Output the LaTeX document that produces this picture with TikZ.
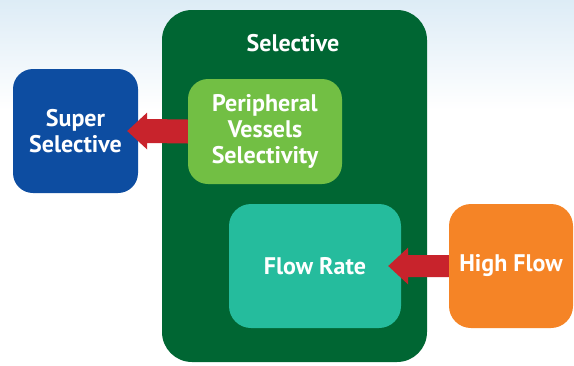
\documentclass[tikz,border=0pt]{standalone}
\usepackage{fontspec}
\setmainfont{PT Sans}
\usetikzlibrary{calc}
\definecolor{dkgreen}{HTML}{006633}
\definecolor{ssblue}{HTML}{0D4DA1}
\definecolor{ltgreen}{HTML}{72BF44}
\definecolor{teal2}{HTML}{25BC9D}
\definecolor{orng}{HTML}{F58426}
\definecolor{arrred}{HTML}{C8232C}
\definecolor{sky}{HTML}{DDECF6}
\tikzset{
  lbl/.style={text=white, align=center, font=\bfseries\fontsize{24}{26}\selectfont},
  box/.style={rounded corners=#1, inner sep=0pt, lbl},
  box/.default=20pt,
  fatarrow/.style={fill=arrred}
}
\begin{document}
\begin{tikzpicture}[x=1pt,y=-1pt]
\useasboundingbox (0,0) rectangle (574,365);
\shade[top color=sky, bottom color=white] (0,0) rectangle (574,110);
\fill[white] (0,110) rectangle (574,365);
% outer selective box
\node[box=30pt, fill=dkgreen, minimum width=265pt, minimum height=352pt] (sel) at (294.5,186) {};
\node[lbl] (seltitle) at (293,43) {Selective};
\node[box, fill=ssblue, minimum width=125pt, minimum height=124pt] (ss) at (75.5,131) {Super\\Selective};
\node[box, fill=ltgreen, minimum width=154pt, minimum height=105pt] (pv) at (265,131.5) {Peripheral\\Vessels\\Selectivity};
\node[box=22pt, fill=teal2, minimum width=172pt, minimum height=124pt] (fr) at (315,266) {Flow Rate};
\node[box=22pt, fill=orng, minimum width=124pt, minimum height=124pt] (hf) at (511,266) {High Flow};
% arrows
\fill[fatarrow] ($(pv.west)+(0,-12)$) -- ($(ss.east)+(9,-12)$) -- ($(ss.east)+(9,-18.5)$)
  -- ($(ss.east)+(-11,0)$) -- ($(ss.east)+(9,18.5)$) -- ($(ss.east)+(9,12)$) -- ($(pv.west)+(0,12)$) -- cycle;
\fill[fatarrow] ($(hf.west)+(0,-11)$) -- ($(fr.east)+(7,-11)$) -- ($(fr.east)+(7,-18.5)$)
  -- ($(fr.east)+(-13,0)$) -- ($(fr.east)+(7,18.5)$) -- ($(fr.east)+(7,11)$) -- ($(hf.west)+(0,11)$) -- cycle;
\end{tikzpicture}
\end{document}
